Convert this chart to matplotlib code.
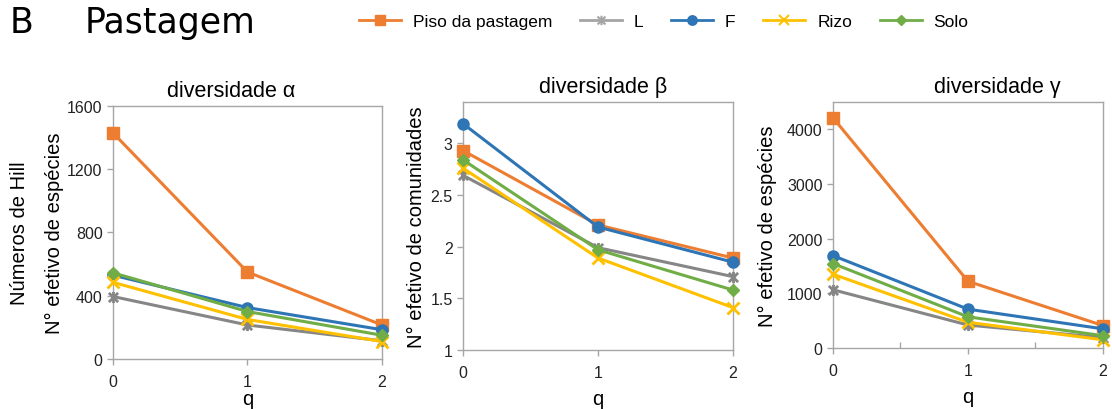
import matplotlib
matplotlib.use("Agg")
import matplotlib.pyplot as plt
from matplotlib.path import Path
from matplotlib.lines import Line2D

# Hill numbers for the pasture samples, orders q = 0, 1, 2
q_orders = [0, 1, 2]
series_names = ["Piso da pastagem", "L", "F", "Rizo", "Solo"]

alpha_piso = [1430, 550, 215]
alpha_L = [395, 215, 115]
alpha_F = [530, 325, 185]
alpha_rizo = [485, 250, 110]
alpha_solo = [545, 300, 150]

beta_piso = [2.93, 2.21, 1.89]
beta_L = [2.69, 1.99, 1.71]
beta_F = [3.19, 2.19, 1.85]
beta_rizo = [2.76, 1.89, 1.41]
beta_solo = [2.84, 1.97, 1.58]

gamma_piso = [4210, 1220, 410]
gamma_L = [1065, 420, 190]
gamma_F = [1690, 710, 350]
gamma_rizo = [1350, 470, 150]
gamma_solo = [1545, 570, 225]

colors = ["#ED7D31", "#868686", "#2E75B6", "#FFC000", "#70AD47"]
legend_colors = ["#ED7D31", "#A5A5A5", "#2E75B6", "#FFC000", "#70AD47"]

# asterisk-like marker: an x with a vertical bar
star_path = Path(
    [(-1, -1), (1, 1), (-1, 1), (1, -1), (0, -1.2), (0, 1.2)],
    [Path.MOVETO, Path.LINETO, Path.MOVETO, Path.LINETO, Path.MOVETO, Path.LINETO],
)
markers = ["s", star_path, "o", "x", "D"]
msizes = [8, 8, 8, 8, 6]


def edge_width(m):
    return 2.0 if (m == "x" or m is star_path) else 1.0


FONT = ["Liberation Sans", "DejaVu Sans"]
plt.rcParams["font.family"] = FONT

fig = plt.figure(figsize=(11.12, 4.10), dpi=100)

panels = [
    dict(pos=[0.1016, 0.122, 0.2419, 0.617],
         data=[alpha_piso, alpha_L, alpha_F, alpha_rizo, alpha_solo],
         ylim=(0, 1600), yticks=[0, 400, 800, 1200, 1600],
         ylabel="Números de Hill\nN° efetivo de espécies", ypad=2, xpad=0,
         title="diversidade α", title_x=0.44),
    dict(pos=[0.4164, 0.1439, 0.2428, 0.6049],
         data=[beta_piso, beta_L, beta_F, beta_rizo, beta_solo],
         ylim=(1, 3.4), yticks=[1, 1.5, 2, 2.5, 3],
         ylabel="N° efetivo de comunidades", ypad=3, xpad=6,
         title="diversidade β", title_x=0.52),
    dict(pos=[0.7491, 0.1488, 0.2428, 0.600],
         data=[gamma_piso, gamma_L, gamma_F, gamma_rizo, gamma_solo],
         ylim=(0, 4500), yticks=[0, 1000, 2000, 3000, 4000],
         ylabel="N° efetivo de espécies", ypad=7, xpad=6,
         title="diversidade γ", title_x=0.61),
]

for i, p in enumerate(panels):
    ax = fig.add_axes(p["pos"])
    for vals, c, m, ms in zip(p["data"], colors, markers, msizes):
        ax.plot(q_orders, vals, color=c, marker=m, markersize=ms, lw=2.2,
                markeredgewidth=edge_width(m), clip_on=False, zorder=3)
    ax.set_xlim(0, 2)
    ax.set_ylim(*p["ylim"])
    ax.set_xticks(q_orders)
    ax.set_yticks(p["yticks"])
    ax.set_yticklabels([f"{t:g}" for t in p["yticks"]])
    for s in ax.spines.values():
        s.set_color("#A6A6A6")
        s.set_linewidth(1.0)
    ax.tick_params(axis="both", colors="#A6A6A6", labelcolor="#222222",
                   labelsize=11.5, length=4, width=1.0)
    ax.tick_params(axis="x", pad=7)
    ax.set_xlabel("q", fontsize=14.5, labelpad=p["xpad"])
    ax.set_ylabel(p["ylabel"], fontsize=14.5, labelpad=p["ypad"],
                  linespacing=2.1)
    ax.text(p["title_x"], 1.02, p["title"], transform=ax.transAxes,
            ha="center", va="bottom", fontsize=15.5)
    if i == 2:
        ax.set_xticks([0.5, 1.5], minor=True)
        ax.tick_params(axis="x", which="minor", direction="in", length=4,
                       colors="#A6A6A6", width=1.0)

fig.text(0.009, 0.945, "B", fontsize=25, family="DejaVu Sans", va="center")
fig.text(0.076, 0.945, "Pastagem", fontsize=25, family="DejaVu Sans", va="center")

handles = [Line2D([0], [0], color=c, marker=m, markersize=ms * 0.85, lw=2.0,
                  markeredgewidth=1.5 if edge_width(m) > 1 else 1.0)
           for c, m, ms in zip(legend_colors, markers, msizes)]
fig.legend(handles, series_names, loc="center", bbox_to_anchor=(0.597, 0.945),
           ncol=5, frameon=False, fontsize=12.5, handlelength=2.4,
           columnspacing=1.6, handletextpad=0.7)

fig.savefig("out.png", dpi=100)
